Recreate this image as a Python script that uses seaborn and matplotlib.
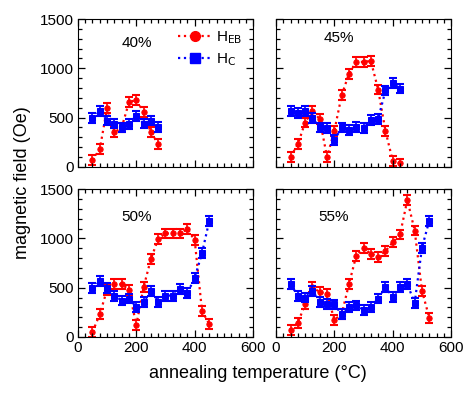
import numpy as np
import pandas as pd
import matplotlib
matplotlib.use("Agg")
import matplotlib.pyplot as plt
import seaborn as sns
from matplotlib.lines import Line2D
from matplotlib.ticker import MultipleLocator

# annealing temperatures (°C) for each composition
t40 = [50, 75, 100, 125, 150, 175, 200, 225, 250, 275]
t45 = [50, 75, 100, 125, 150, 175, 200, 225, 250, 275, 300, 325, 350, 375, 400, 425]
t50 = [50, 75, 100, 125, 150, 175, 200, 225, 250, 275, 300, 325, 350, 375, 400, 425, 450]
t55 = [50, 75, 100, 125, 150, 175, 200, 225, 250, 275, 300, 325, 350, 375, 400, 425, 450, 475, 500, 525]

# exchange bias field H_EB (Oe)
heb40 = [70, 180, 595, 350, 400, 655, 680, 555, 350, 235]
heb45 = [100, 230, 450, 570, 485, 100, 365, 725, 945, 1065, 1065, 1075, 785, 365, 60, 35]
heb50 = [50, 230, 480, 535, 535, 480, 120, 505, 790, 995, 1050, 1050, 1050, 1095, 980, 265, 130]
heb55 = [75, 145, 330, 505, 455, 440, 175, 230, 535, 825, 900, 845, 810, 870, 960, 1040, 1390, 1080, 470, 195]

# coercive field H_C (Oe)
hc40 = [495, 565, 470, 440, 400, 435, 520, 440, 470, 405]
hc45 = [565, 545, 565, 495, 400, 395, 270, 400, 375, 405, 395, 475, 485, 775, 850, 795]
hc50 = [495, 565, 495, 420, 370, 390, 305, 355, 465, 355, 420, 420, 490, 445, 600, 850, 1180]
hc55 = [535, 420, 400, 470, 355, 335, 330, 230, 305, 320, 275, 305, 390, 505, 405, 510, 535, 345, 905, 1180]

labels = ["40%", "45%", "50%", "55%"]
label_pos = [(0.25, 0.84), (0.27, 0.87), (0.25, 0.81), (0.24, 0.81)]
temps = [t40, t45, t50, t55]
hebs = [heb40, heb45, heb50, heb55]
hcs = [hc40, hc45, hc50, hc55]
err = 50

plt.rcParams["font.family"] = ["Liberation Sans", "DejaVu Sans"]
plt.rcParams.update({"xtick.direction": "in", "ytick.direction": "in",
                     "xtick.top": True, "ytick.right": True,
                     "axes.axisbelow": False})

fig, axes = plt.subplots(2, 2, figsize=(4.69, 3.96), dpi=100, sharex=True, sharey=True)
fig.subplots_adjust(left=0.166, right=0.962, top=0.952, bottom=0.149, wspace=0.13, hspace=0.15)

red = "#ff0000"
blue = "#0000ff"

for ax, lab, pos, t, heb, hc in zip(axes.flat, labels, label_pos, temps, hebs, hcs):
    df = pd.DataFrame({"T": t, "HEB": heb, "HC": hc})
    sns.lineplot(data=df, x="T", y="HEB", ax=ax, color=red, linestyle=":", linewidth=1.6,
                 marker="o", markersize=3.8, markeredgecolor=red, zorder=2)
    ax.errorbar(df["T"], df["HEB"], yerr=err, fmt="none", ecolor=red, elinewidth=1.2,
                capsize=3, capthick=1.5, zorder=2)
    sns.lineplot(data=df, x="T", y="HC", ax=ax, color=blue, linestyle=":", linewidth=1.6,
                 marker="s", markersize=4.2, markeredgecolor=blue, zorder=3)
    ax.errorbar(df["T"], df["HC"], yerr=err, fmt="none", ecolor=blue, elinewidth=1.2,
                capsize=3, capthick=1.5, zorder=3)
    ax.text(pos[0], pos[1], lab, transform=ax.transAxes, fontsize=11, va="center")
    ax.set_xlim(0, 600)
    ax.set_ylim(0, 1500)
    ax.xaxis.set_major_locator(MultipleLocator(200))
    ax.xaxis.set_minor_locator(MultipleLocator(25))
    ax.yaxis.set_major_locator(MultipleLocator(500))
    ax.yaxis.set_minor_locator(MultipleLocator(100))
    ax.tick_params(which="both", direction="in", top=True, right=True, labelsize=11, pad=3)
    ax.tick_params(which="major", length=5, width=0.9)
    ax.tick_params(which="minor", length=3, width=0.9)
    for s in ax.spines.values():
        s.set_linewidth(0.8)
    ax.set_xlabel("")
    ax.set_ylabel("")

handles = [Line2D([], [], color=red, linestyle=":", linewidth=1.6, marker="o", markersize=7),
           Line2D([], [], color=blue, linestyle=":", linewidth=1.6, marker="s", markersize=7)]
axes[0, 0].legend(handles, [r"H$_{\mathrm{EB}}$", r"H$_{\mathrm{C}}$"], loc="upper right",
                  frameon=False, fontsize=11, handlelength=2.2, handletextpad=0.3,
                  borderaxespad=0.3, labelspacing=0.3)

fig.text(0.55, 0.045, "annealing temperature (°C)", ha="center", fontsize=13)
fig.text(0.03, 0.54, "magnetic field (Oe)", va="center", rotation=90, fontsize=13)

fig.savefig("out.png", dpi=100)
